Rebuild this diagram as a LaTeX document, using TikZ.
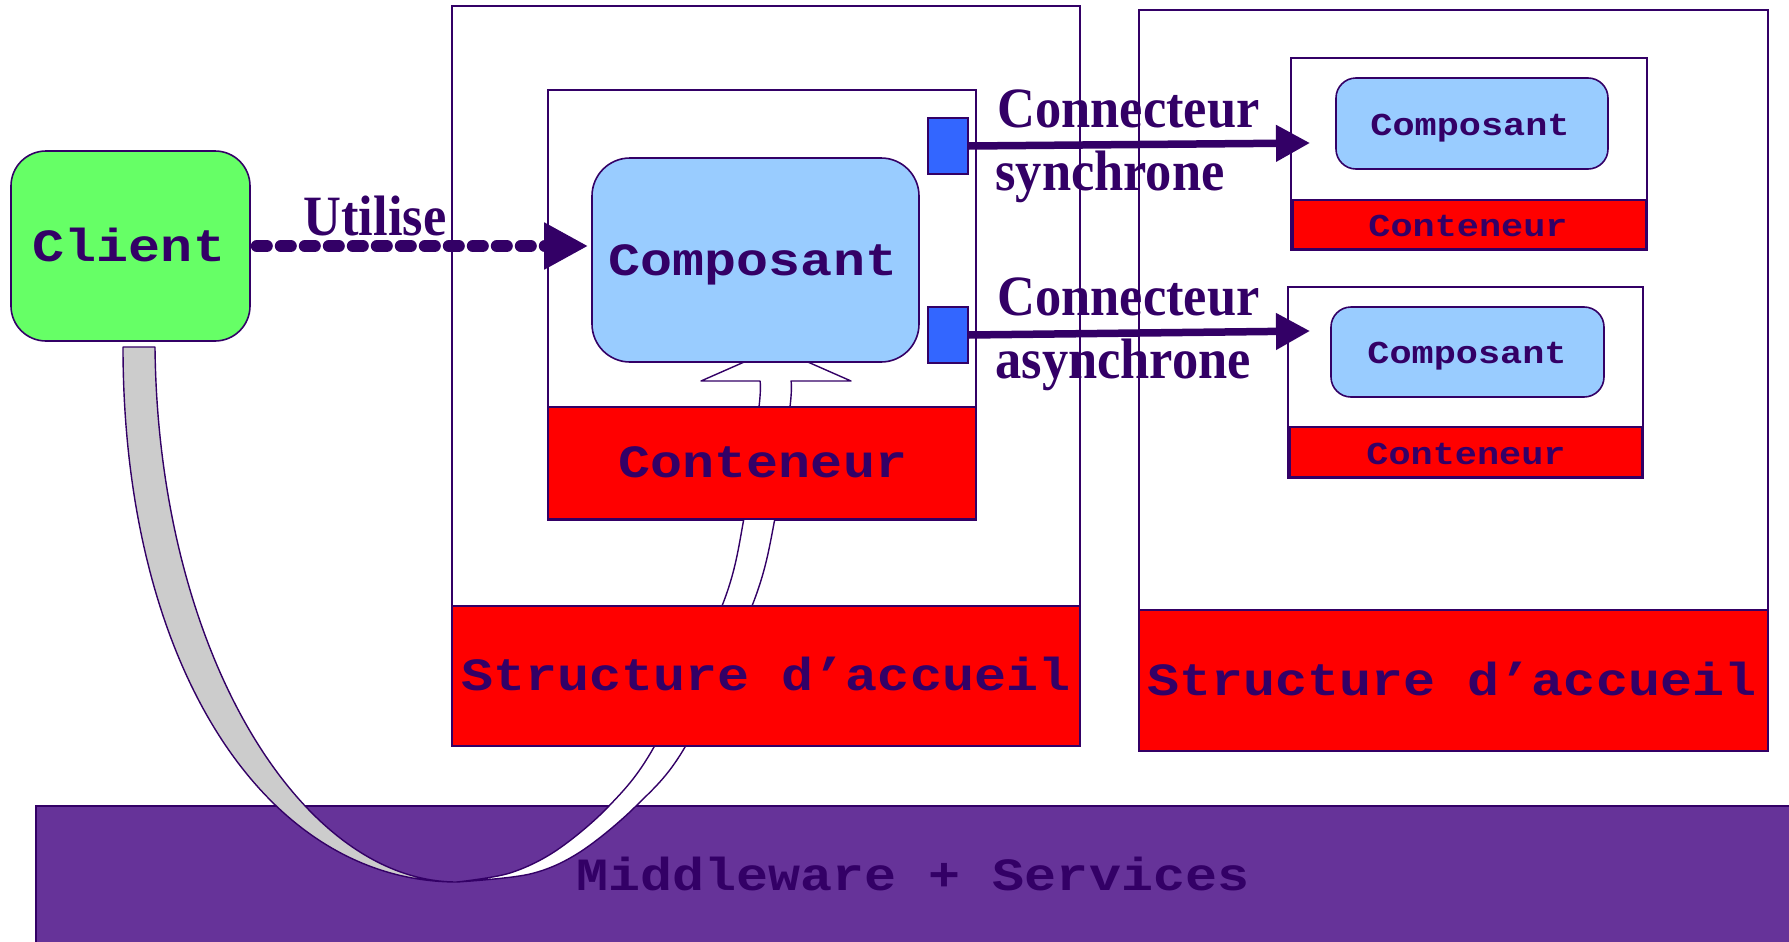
\documentclass[tikz,border=0pt]{standalone}
\usepackage{fontspec}
\usepackage{graphicx}
\usetikzlibrary{arrows.meta}
\newfontfamily\courfam{Liberation Mono}
\newfontfamily\serfam{Liberation Serif}
\definecolor{ink}{HTML}{330066}
\definecolor{clientgreen}{HTML}{66FF66}
\definecolor{compblue}{HTML}{99CCFF}
\definecolor{portblue}{HTML}{3366FF}
\definecolor{mwpurple}{HTML}{663399}
\definecolor{bandgray}{HTML}{CCCCCC}
\definecolor{hostred}{HTML}{FF0000}
% Courier-like proportions: monospace glyphs slightly narrowed and flattened
\newcommand{\squash}[1]{\scalebox{0.97}[0.84]{#1}}
% Condensed serif labels
\newcommand{\narrow}[1]{\scalebox{0.92}[1]{#1}}

\begin{document}
\begin{tikzpicture}[x=0.5pt,y=-0.5pt,
  outline/.style={draw=ink, line width=0.8pt},
  box/.style={outline, rectangle, inner sep=0pt, fill=white},
  redband/.style={box, fill=hostred},
  compbox/.style={box, fill=compblue, rounded corners=#1},
  port/.style={box, fill=portblue},
  bigmono/.style={font=\courfam\bfseries\fontsize{27.5}{30}\selectfont, text=ink, inner sep=0pt, anchor=base},
  smallmono/.style={font=\courfam\bfseries\fontsize{19}{21}\selectfont, text=ink, inner sep=0pt, anchor=base},
  serlabel/.style={font=\serfam\bfseries\fontsize{28.5}{31}\selectfont, text=ink, inner sep=0pt},
  uses/.style={draw=ink, line width=6pt, line cap=round, dash pattern=on 5pt off 7pt,
    -{Triangle[length=22pt,width=22pt]}},
  conn/.style={draw=ink, line width=3.75pt, -{Triangle[length=17pt,width=17.5pt]}},
  ribbon/.style={outline, line width=0.7pt, line join=round}]

\useasboundingbox (0,0) rectangle (1789,942);
\clip (0,0) rectangle (1789,942);

% middleware layer
\filldraw[outline, fill=mwpurple] (36,806) rectangle (1800,960);

% hosting structures
\node[box, minimum width=314pt, minimum height=370pt] (host1) at (766,376) {};
\node[box, minimum width=314.5pt, minimum height=370.5pt] (host2) at (1453.5,380.5) {};

% main container frame
\node[box, minimum width=214pt, minimum height=215pt] (cont1box) at (762,305) {};

% white ribbon rising from the middleware into the container, ending as an arrow
\filldraw[ribbon, fill=white]
  plot[smooth, tension=0.55] coordinates {(457,882) (510,873) (557,850) (609,806) (654,747) (722,606) (744,518) (759,407) (760,381)}
  -- (701,381) -- (776,348) -- (851,381) -- (791,381)
  -- plot[smooth, tension=0.55] coordinates {(791,381) (790,407) (775,518) (752,606) (685,747) (636,806) (580,852) (530,874) (457,882)}
  -- cycle;

% grey ribbon coming down from the client
\filldraw[ribbon, fill=bandgray]
  (123,347) .. controls (123,662) and (263,882) .. (457,882)
  .. controls (300,882) and (158,650) .. (155,347) -- cycle;

% red bands
\node[redband, minimum width=314pt, minimum height=70pt] (struct1) at (766,676) {};
\node[redband, minimum width=314.5pt, minimum height=70.5pt] (struct2) at (1453.5,680.5) {};
\node[redband, minimum width=214pt, minimum height=56pt] (cont1) at (762,463) {};

% main component and its ports
\node[compbox=19pt, minimum width=163.5pt, minimum height=102pt] (comp) at (755.5,260) {};
\node[port, minimum width=20pt, minimum height=28pt] (sq1) at (948,146) {};
\node[port, minimum width=20pt, minimum height=28pt] (sq2) at (948,335) {};

% remote containers
\node[box, minimum width=178pt, minimum height=96pt] (sb1) at (1469,154) {};
\node[compbox=10pt, minimum width=136pt, minimum height=45.5pt] (sc1) at (1472,123.5) {};
\node[redband, minimum width=176.5pt, minimum height=24.5pt] (sk1) at (1469.5,224.5) {};

\node[box, minimum width=177.5pt, minimum height=95.5pt] (sb2) at (1465.5,382.5) {};
\node[compbox=10pt, minimum width=136.5pt, minimum height=45pt] (sc2) at (1467.5,352) {};
\node[redband, minimum width=176pt, minimum height=25pt] (sk2) at (1466,452) {};

% client
\node[box, fill=clientgreen, rounded corners=17.5pt, minimum width=119.5pt, minimum height=95pt] (client) at (130.5,246) {};

% texts
\node[bigmono] (tclient) at (129,261) {\squash{Client}};
\node[bigmono] (tcomp) at (753,275) {\squash{Composant}};
\node[bigmono] (tcont) at (763,477) {\squash{Conteneur}};
\node[bigmono] (tstruct1) at (766,690) {\squash{Structure d’accueil}};
\node[bigmono] (tstruct2) at (1452,695) {\squash{Structure d’accueil}};
\node[bigmono] (tmw) at (913,890) {\squash{Middleware + Services}};
\node[smallmono] (tsc1) at (1470,135) {\squash{Composant}};
\node[smallmono] (tsk1) at (1468,236) {\squash{Conteneur}};
\node[smallmono] (tsc2) at (1467,363) {\squash{Composant}};
\node[smallmono] (tsk2) at (1466,464) {\squash{Conteneur}};

% connectors
\coordinate (synctip) at (1310,143);
\coordinate (asynctip) at (1310,331);
\draw[uses, shorten <=3pt, shorten >=1.5pt] (client.east) -- (client.east -| comp.west);
\draw[conn] (sq1.east) -- (synctip);
\draw[conn] (sq2.east) -- (asynctip);

% connector labels
\node[serlabel, anchor=base] (lutil) at (375,235) {\narrow{Utilise}};
\node[serlabel, anchor=base west] (lsync1) at (997,127) {\narrow{Connecteur}};
\node[serlabel, anchor=base west] (lsync2) at (995,190) {\narrow{synchrone}};
\node[serlabel, anchor=base west] (lasync1) at (997,315) {\narrow{Connecteur}};
\node[serlabel, anchor=base west] (lasync2) at (995,378) {\narrow{asynchrone}};
\end{tikzpicture}
\end{document}
